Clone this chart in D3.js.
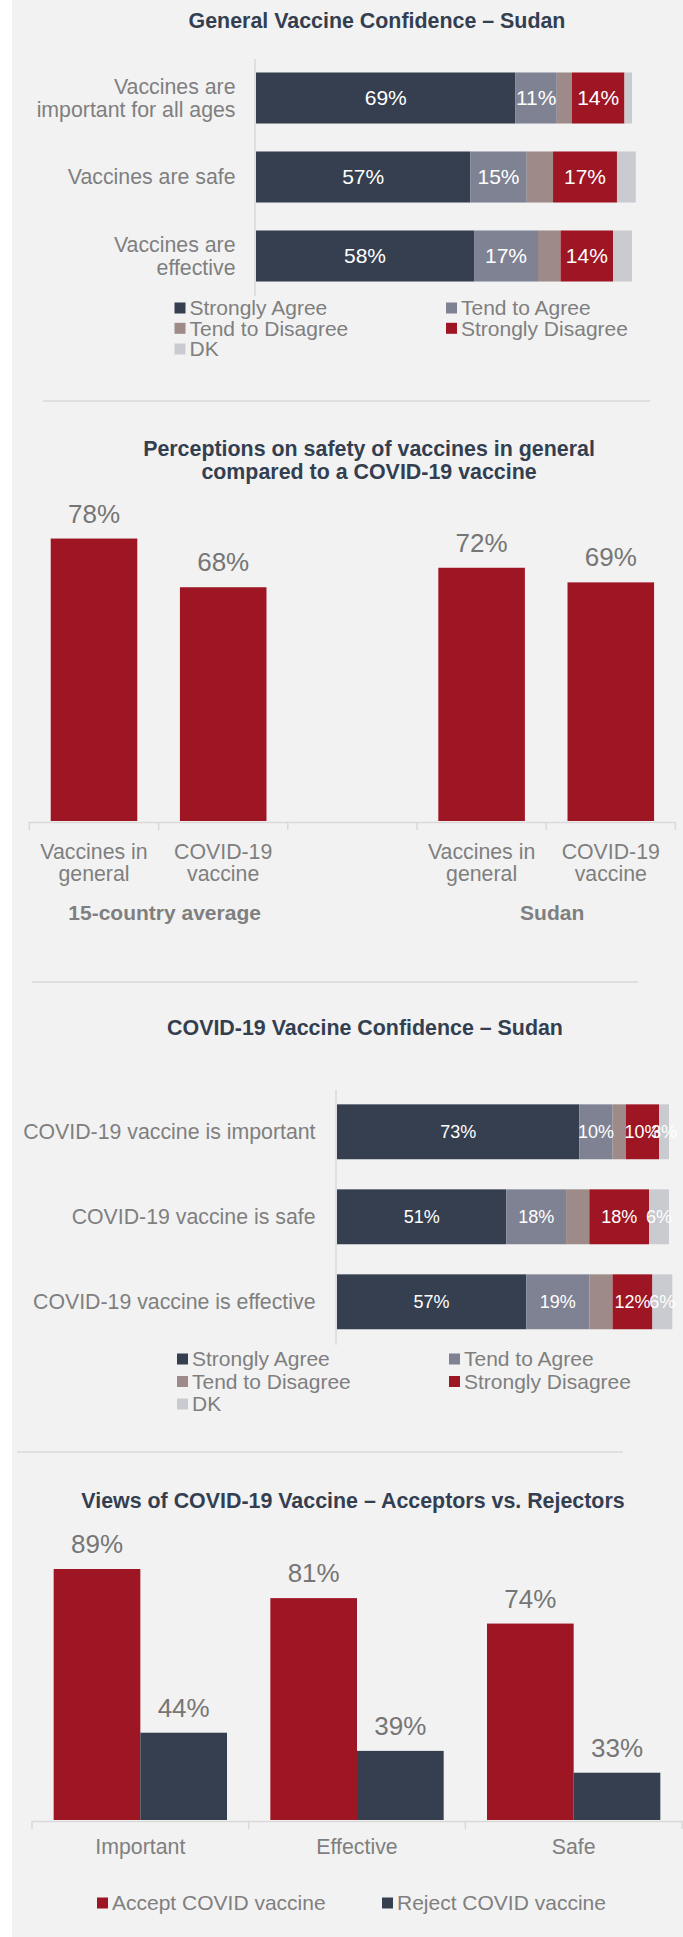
<!DOCTYPE html>
<html><head><meta charset="utf-8">
<script src="https://cdn.jsdelivr.net/npm/d3@7"></script>
<style>
html,body{margin:0;padding:0;background:#fff;}
svg{display:block;}
text{font-family:"Liberation Sans",Arial,Helvetica,sans-serif;}
</style></head><body>
<svg id="chart" width="683" height="1937"></svg>
<script>
// ---------- DATA ----------
const responseKeys = ["Strongly Agree", "Tend to Agree", "Tend to Disagree", "Strongly Disagree", "DK"];

// Chart 1: General Vaccine Confidence – Sudan
const generalTitle = "General Vaccine Confidence – Sudan";
const generalCategories = [["Vaccines are", "important for all ages"], ["Vaccines are safe"], ["Vaccines are", "effective"]];
const generalStronglyAgree = [69, 57, 58];
const generalTendAgree = [11, 15, 17];
const generalTendDisagree = [4, 7, 6];
const generalStronglyDisagree = [14, 17, 14];
const generalDK = [2, 5, 5];

// Chart 2: Perceptions on safety
const safetyTitle = ["Perceptions on safety of vaccines in general", "compared to a COVID-19 vaccine"];
const safetySlots = ["avgGeneral", "avgCovid", "gap", "sudanGeneral", "sudanCovid"];
const safetyLabels = [["Vaccines in", "general"], ["COVID-19", "vaccine"], [], ["Vaccines in", "general"], ["COVID-19", "vaccine"]];
const safetyValues = [78, 68, null, 72, 69];
const safetyGroups = ["15-country average", "Sudan"];

// Chart 3: COVID-19 Vaccine Confidence – Sudan
const covidTitle = "COVID-19 Vaccine Confidence – Sudan";
const covidCategories = ["COVID-19 vaccine is important", "COVID-19 vaccine is safe", "COVID-19 vaccine is effective"];
const covidStronglyAgree = [73, 51, 57];
const covidTendAgree = [10, 18, 19];
const covidTendDisagree = [4, 7, 7];
const covidStronglyDisagree = [10, 18, 12];
const covidDK = [3, 6, 6];

// Chart 4: Acceptors vs Rejectors
const viewsTitle = "Views of COVID-19 Vaccine – Acceptors vs. Rejectors";
const viewsCategories = ["Important", "Effective", "Safe"];
const viewsSeries = ["Accept COVID vaccine", "Reject COVID vaccine"];
const viewsAccept = [89, 81, 74];
const viewsReject = [44, 39, 33];

// ---------- STYLE ----------
const colors = {"Strongly Agree": "#353f4f", "Tend to Agree": "#7f8293", "Tend to Disagree": "#9d8a89", "Strongly Disagree": "#9e1523", "DK": "#c9cbd0"};
const seriesColors = {"Accept COVID vaccine": "#9e1523", "Reject COVID vaccine": "#353f4f"};
const titleColor = "#333f50";
const textGray = "#7f7f7f";
const valueGray = "#767676";
const lineGray = "#d9d9d9";
const labelSize = 21.3;

const svg = d3.select("#chart");
svg.append("rect").attr("x", 12).attr("y", 0).attr("width", 671).attr("height", 1937).attr("fill", "#f2f2f2");

function title(lines, cx, cy, lh) {
  const t = svg.append("text").attr("text-anchor", "middle").attr("fill", titleColor)
    .attr("font-weight", "bold").attr("font-size", 21.4);
  lines.forEach((l, i) => t.append("tspan").attr("x", cx).attr("y", cy + i * lh).attr("dy", "0.35em").text(l));
}
function sep(x1, x2, y) {
  svg.append("line").attr("x1", x1).attr("x2", x2).attr("y1", y).attr("y2", y).attr("stroke", lineGray).attr("stroke-width", 1.5);
}
function legend(items, colorMap, positions, rowYs) {
  items.forEach((k, i) => {
    const p = positions[i];
    const g = svg.append("g").attr("transform", `translate(${p[0]},${rowYs[p[1]]})`);
    g.append("rect").attr("x", 0).attr("y", -5.5).attr("width", 11).attr("height", 11).attr("fill", colorMap[k]);
    g.append("text").attr("x", 15).attr("y", 0).attr("dy", "0.35em").attr("font-size", 21).attr("fill", textGray).text(k);
  });
}

function stackedChart(cfg) {
  const rows = cfg.categories.map((c, i) => {
    const o = {idx: i};
    responseKeys.forEach((k, j) => o[k] = cfg.series[j][i]);
    return o;
  });
  const stacked = d3.stack().keys(responseKeys)(rows);
  const y = d3.scaleBand().domain(d3.range(cfg.categories.length)).range(cfg.yRange).paddingInner(0.354).paddingOuter(0.177);
  const x = d3.scaleLinear().domain([0, 100]).range(cfg.xRange);
  const ax = svg.append("g").attr("transform", `translate(${cfg.xRange[0] - 1.5},0)`)
    .call(d3.axisLeft(y).tickSize(0).tickSizeOuter(0).tickFormat(() => ""));
  ax.select(".domain").attr("stroke", lineGray).attr("stroke-width", 1.5);
  stacked.forEach((layer, li) => {
    svg.append("g").selectAll("rect").data(layer).join("rect")
      .attr("x", d => x(d[0])).attr("width", d => x(d[1]) - x(d[0]))
      .attr("y", (d, i) => y(i)).attr("height", y.bandwidth())
      .attr("fill", colors[responseKeys[li]]);
  });
  stacked.forEach((layer, li) => {
    if (!cfg.labeled.includes(li)) return;
    svg.append("g").selectAll("text").data(layer).join("text")
      .attr("x", d => (x(d[0]) + x(d[1])) / 2).attr("y", (d, i) => y(i) + y.bandwidth() / 2)
      .attr("dy", "0.35em").attr("text-anchor", "middle").attr("fill", "#fff")
      .attr("font-size", cfg.labelSize).text(d => (d[1] - d[0]) + "%");
  });
  cfg.categories.forEach((c, i) => {
    const lines = Array.isArray(c) ? c : [c];
    const cy = y(i) + y.bandwidth() / 2;
    const t = svg.append("text").attr("text-anchor", "end").attr("fill", textGray).attr("font-size", labelSize);
    lines.forEach((l, k) => t.append("tspan").attr("x", cfg.labelX)
      .attr("y", cy + (k - (lines.length - 1) / 2) * 23.5).attr("dy", "0.35em").text(l));
  });
}

// ---------- CHART 1 ----------
title([generalTitle], 377, 20.5, 0);
stackedChart({
  categories: generalCategories,
  series: [generalStronglyAgree, generalTendAgree, generalTendDisagree, generalStronglyDisagree, generalDK],
  yRange: [58.5, 295.5], xRange: [256, 632], labeled: [0, 1, 3], labelSize: 21, labelX: 235.5
});
legend(responseKeys, colors, [[174.5, 0], [446, 0], [174.5, 1], [446, 1], [174.5, 2]], [308, 328.3, 349]);
sep(43, 650, 401);

// ---------- CHART 2 ----------
title(safetyTitle, 369, 448.5, 23);
{
  const x = d3.scaleBand().domain(safetySlots).range([29.4, 675.4]).paddingInner(0.33).paddingOuter(0.165);
  const y = d3.scaleLinear().domain([20, 80]).range([821, 528.8]);
  const data = safetySlots.map((s, i) => ({slot: s, v: safetyValues[i], label: safetyLabels[i]}));
  const bars = data.filter(d => d.v !== null);
  svg.append("g").selectAll("rect").data(bars).join("rect")
    .attr("x", d => x(d.slot)).attr("width", x.bandwidth())
    .attr("y", d => y(d.v)).attr("height", d => y(20) - y(d.v)).attr("fill", "#9e1523");
  svg.append("g").selectAll("text").data(bars).join("text")
    .attr("x", d => x(d.slot) + x.bandwidth() / 2).attr("y", d => y(d.v) - 25).attr("dy", "0.35em")
    .attr("text-anchor", "middle").attr("font-size", 26).attr("fill", valueGray).text(d => d.v + "%");
  const ax = svg.append("g").attr("transform", `translate(0,${y(20) + 1})`)
    .call(d3.axisBottom(x).tickSize(0).tickSizeOuter(0).tickFormat(() => ""));
  ax.select(".domain").attr("stroke", lineGray).attr("stroke-width", 1.5);
  const r0 = x.range()[0], st = x.step();
  ax.selectAll(".bnd").data(d3.range(safetySlots.length + 1)).join("line").attr("class", "bnd")
    .attr("x1", k => r0 + k * st).attr("x2", k => r0 + k * st).attr("y1", 0).attr("y2", 8)
    .attr("stroke", lineGray).attr("stroke-width", 1.5);
  data.filter(d => d.label.length).forEach(d => {
    const t = svg.append("text").attr("text-anchor", "middle").attr("fill", textGray).attr("font-size", labelSize);
    d.label.forEach((l, k) => t.append("tspan").attr("x", x(d.slot) + x.bandwidth() / 2).attr("y", 851.5 + k * 22.5).attr("dy", "0.35em").text(l));
  });
  const groupCenters = [
    (x(safetySlots[0]) + x(safetySlots[1]) + x.bandwidth()) / 2,
    (x(safetySlots[3]) + x(safetySlots[4]) + x.bandwidth()) / 2
  ];
  safetyGroups.forEach((gname, i) => {
    svg.append("text").attr("x", groupCenters[i] + 6).attr("y", 912.7).attr("dy", "0.35em")
      .attr("text-anchor", "middle").attr("font-weight", "bold").attr("font-size", 21).attr("fill", textGray).text(gname);
  });
}
sep(32, 638, 982);

// ---------- CHART 3 ----------
title([covidTitle], 365, 1028, 0);
stackedChart({
  categories: covidCategories,
  series: [covidStronglyAgree, covidTendAgree, covidTendDisagree, covidStronglyDisagree, covidDK],
  yRange: [1089.3, 1344.3], xRange: [337, 669], labeled: [0, 1, 3, 4], labelSize: 18, labelX: 315.5
});
legend(responseKeys, colors, [[177, 0], [449, 0], [177, 1], [449, 1], [177, 2]], [1359, 1381.5, 1404]);
sep(17, 623, 1452);

// ---------- CHART 4 ----------
title([viewsTitle], 353, 1500.5, 0);
{
  const x0 = d3.scaleBand().domain(viewsCategories).range([32, 682]).paddingInner(0.2).paddingOuter(0.1);
  const x1 = d3.scaleBand().domain(viewsSeries).range([0, x0.bandwidth()]);
  const y = d3.scaleLinear().domain([20, 100]).range([1820, 1529]);
  const data = viewsCategories.map((c, i) => ({cat: c, vals: [{s: viewsSeries[0], v: viewsAccept[i]}, {s: viewsSeries[1], v: viewsReject[i]}]}));
  const g = svg.append("g").selectAll("g").data(data).join("g").attr("transform", d => `translate(${x0(d.cat)},0)`);
  g.selectAll("rect").data(d => d.vals).join("rect")
    .attr("x", d => x1(d.s)).attr("width", x1.bandwidth())
    .attr("y", d => y(d.v)).attr("height", d => y(20) - y(d.v)).attr("fill", d => seriesColors[d.s]);
  g.selectAll("text").data(d => d.vals).join("text")
    .attr("x", d => x1(d.s) + x1.bandwidth() / 2).attr("y", d => y(d.v) - 25).attr("dy", "0.35em")
    .attr("text-anchor", "middle").attr("font-size", 26).attr("fill", valueGray).text(d => d.v + "%");
  const ax = svg.append("g").attr("transform", `translate(0,${y(20) + 1})`)
    .call(d3.axisBottom(x0).tickSize(0).tickSizeOuter(0).tickPadding(26));
  ax.select(".domain").attr("stroke", lineGray).attr("stroke-width", 1.5);
  ax.selectAll(".tick text").attr("font-size", labelSize).attr("fill", textGray).attr("font-family", null).attr("dy", "0.35em").attr("y", 26);
  const r0 = x0.range()[0], st = x0.step();
  ax.selectAll(".bnd").data(d3.range(viewsCategories.length + 1)).join("line").attr("class", "bnd")
    .attr("x1", k => r0 + k * st).attr("x2", k => r0 + k * st).attr("y1", 0).attr("y2", 8)
    .attr("stroke", lineGray).attr("stroke-width", 1.5);
  legend(viewsSeries, seriesColors, [[97, 0], [382, 0]], [1903]);
}
</script>
</body></html>
